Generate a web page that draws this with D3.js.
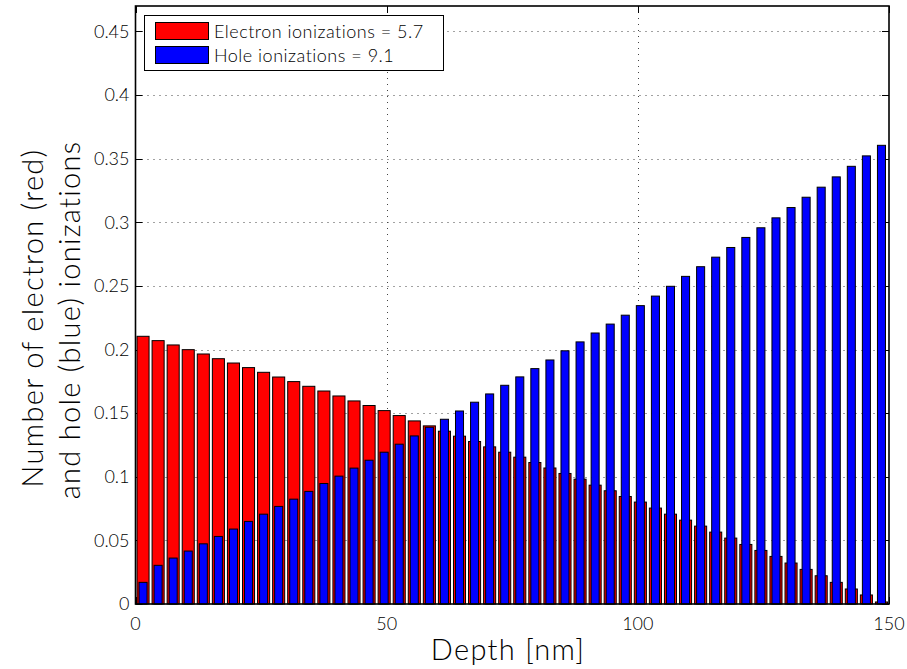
<!DOCTYPE html>
<html>
<head>
<meta charset="utf-8">
<script src="https://cdn.jsdelivr.net/npm/d3@7"></script>
<style>
  html, body { margin: 0; padding: 0; background: #fff; }
  svg { display: block; }
  text { font-family: Lato, "Open Sans", sans-serif; font-weight: 300; fill: #000; }
</style>
</head>
<body>
<svg id="chart" width="907" height="669"></svg>
<script>
// ---- data ----
const depth = [1.5, 4.5, 7.5, 10.5, 13.5, 16.5, 19.5, 22.5, 25.5, 28.5,
  31.5, 34.5, 37.5, 40.5, 43.5, 46.5, 49.5, 52.5, 55.5, 58.5,
  61.5, 64.5, 67.5, 70.5, 73.5, 76.5, 79.5, 82.5, 85.5, 88.5,
  91.5, 94.5, 97.5, 100.5, 103.5, 106.5, 109.5, 112.5, 115.5, 118.5,
  121.5, 124.5, 127.5, 130.5, 133.5, 136.5, 139.5, 142.5, 145.5, 148.5];
const electron = [0.2104, 0.2070, 0.2036, 0.1999, 0.1965, 0.1928, 0.1894, 0.1858, 0.1821, 0.1784,
  0.1748, 0.1711, 0.1674, 0.1635, 0.1596, 0.1560, 0.1520, 0.1481, 0.1439, 0.1400,
  0.1358, 0.1319, 0.1277, 0.1235, 0.1193, 0.1154, 0.1112, 0.1069, 0.1026, 0.0981,
  0.0934, 0.0890, 0.0845, 0.0801, 0.0754, 0.0706, 0.0659, 0.0612, 0.0565, 0.0518,
  0.0468, 0.0421, 0.0374, 0.0322, 0.0272, 0.0222, 0.0170, 0.0118, 0.0071, 0.0016];
const hole = [0.0170, 0.0304, 0.0361, 0.0416, 0.0473, 0.0531, 0.0589, 0.0649, 0.0706, 0.0767,
  0.0824, 0.0885, 0.0947, 0.1005, 0.1068, 0.1130, 0.1193, 0.1256, 0.1321, 0.1389,
  0.1452, 0.1517, 0.1586, 0.1651, 0.1719, 0.1785, 0.1850, 0.1918, 0.1990, 0.2060,
  0.2130, 0.2200, 0.2270, 0.2345, 0.2420, 0.2497, 0.2575, 0.2651, 0.2726, 0.2802,
  0.2881, 0.2957, 0.3035, 0.3116, 0.3197, 0.3276, 0.3357, 0.3440, 0.3522, 0.3605];
const xTicks = [0, 50, 100, 150];
const yTicks = [0, 0.05, 0.1, 0.15, 0.2, 0.25, 0.3, 0.35, 0.4, 0.45];
const yTickLabels = ["0", "0.05", "0.1", "0.15", "0.2", "0.25", "0.3", "0.35", "0.4", "0.45"];
const legendLabels = ["Electron ionizations = 5.7", "Hole ionizations = 9.1"];
const colors = ["#ff0000", "#0000ff"];

// ---- layout ----
const L = 135.5, R = 889, T = 6, B = 604;
const svg = d3.select("#chart");
const x = d3.scaleLinear().domain([0, 150]).range([L, R]);
const y = d3.scaleLinear().domain([0, 0.47]).range([B, T]);

// grid
const grid = svg.append("g").attr("stroke", "#444").attr("stroke-width", 1)
  .attr("stroke-dasharray", "1,5");
grid.selectAll("line.h").data(yTicks.slice(1)).enter().append("line")
  .attr("x1", L).attr("x2", R).attr("y1", d => Math.round(y(d)) + 0.5).attr("y2", d => Math.round(y(d)) + 0.5);
grid.selectAll("line.v").data(xTicks.slice(1, -1)).enter().append("line")
  .attr("y1", T).attr("y2", B).attr("x1", d => Math.round(x(d)) + 0.5).attr("x2", d => Math.round(x(d)) + 0.5);

// ticks (inner, all four sides)
const tk = 7;
const ticks = svg.append("g").attr("stroke", "#000").attr("stroke-width", 1);
yTicks.forEach(v => {
  const yy = Math.round(y(v)) + 0.5;
  ticks.append("line").attr("x1", L).attr("x2", L + tk).attr("y1", yy).attr("y2", yy);
  ticks.append("line").attr("x1", R).attr("x2", R - tk).attr("y1", yy).attr("y2", yy);
});
xTicks.forEach(v => {
  const xx = Math.round(x(v)) + 0.5;
  ticks.append("line").attr("x1", xx).attr("x2", xx).attr("y1", B).attr("y2", B - tk);
  ticks.append("line").attr("x1", xx).attr("x2", xx).attr("y1", T).attr("y2", T + tk);
});

// bars
const redW = x(2.4) - x(0), blueW = x(1.6) - x(0);
svg.append("g").selectAll("rect").data(electron).enter().append("rect")
  .attr("x", (d, i) => x(depth[i]) - redW / 2).attr("width", redW)
  .attr("y", d => y(d)).attr("height", d => y(0) - y(d))
  .attr("fill", colors[0]).attr("stroke", "#000").attr("stroke-width", 1);
svg.append("g").selectAll("rect").data(hole).enter().append("rect")
  .attr("x", (d, i) => x(depth[i]) - blueW / 2).attr("width", blueW)
  .attr("y", d => y(d)).attr("height", d => y(0) - y(d))
  .attr("fill", colors[1]).attr("stroke", "#000").attr("stroke-width", 1);

// box
svg.append("rect").attr("x", L).attr("y", T).attr("width", R - L).attr("height", B - T)
  .attr("fill", "none").attr("stroke", "#000").attr("stroke-width", 1.6);

// tick labels
svg.append("g").selectAll("text").data(yTicks).enter().append("text")
  .attr("x", L - 6).attr("y", d => y(d)).attr("dy", "0.35em")
  .attr("text-anchor", "end").attr("font-size", 18)
  .text((d, i) => yTickLabels[i]);
svg.append("g").selectAll("text").data(xTicks).enter().append("text")
  .attr("x", d => x(d)).attr("y", B + 26)
  .attr("text-anchor", "middle").attr("font-size", 18)
  .text(d => d);

// axis labels
svg.append("text").attr("x", 508).attr("y", 660).attr("text-anchor", "middle")
  .attr("font-size", 29).attr("letter-spacing", 1.3).text("Depth [nm]");
svg.append("text").attr("transform", "translate(43,318) rotate(-90)")
  .attr("text-anchor", "middle").attr("font-size", 29).attr("letter-spacing", 1.3)
  .text("Number of electron (red)");
svg.append("text").attr("transform", "translate(80,320) rotate(-90)")
  .attr("text-anchor", "middle").attr("font-size", 29).attr("letter-spacing", 1.3)
  .text("and hole (blue) ionizations");

// legend
const lg = svg.append("g");
lg.append("rect").attr("x", 144.5).attr("y", 15.5).attr("width", 299).attr("height", 55)
  .attr("fill", "#fff").attr("stroke", "#000").attr("stroke-width", 1);
legendLabels.forEach((t, i) => {
  const yy = 22.5 + i * 24;
  lg.append("rect").attr("x", 155.5).attr("y", yy).attr("width", 53).attr("height", 17)
    .attr("fill", colors[i]).attr("stroke", "#000").attr("stroke-width", 1);
  lg.append("text").attr("x", 214).attr("y", yy + 15).attr("font-size", 18)
    .attr("letter-spacing", 0.5).text(t);
});
</script>
</body>
</html>
